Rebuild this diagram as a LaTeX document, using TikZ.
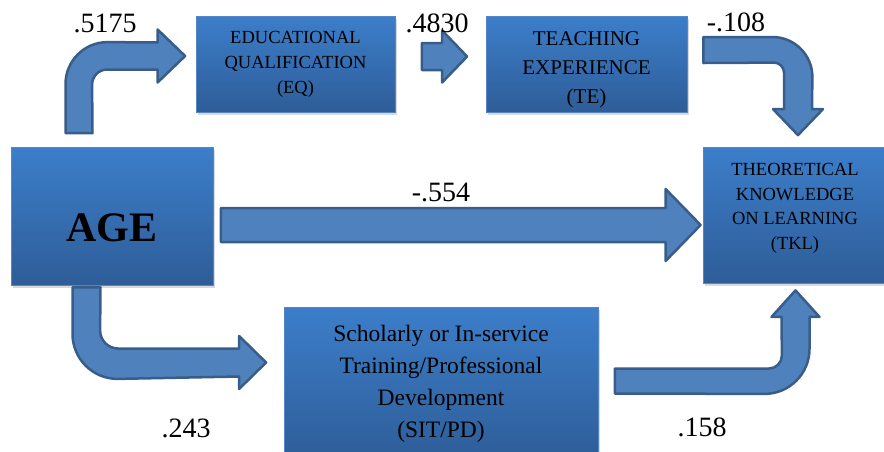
\documentclass[tikz,border=0pt]{standalone}
\usepackage{fontspec}
\setmainfont{Liberation Serif}
\usetikzlibrary{calc,shadows}

\definecolor{boxtop}{RGB}{60,126,202}
\definecolor{boxbottom}{RGB}{46,93,152}
\definecolor{boxedge}{RGB}{84,133,196}
\definecolor{arrowfill}{RGB}{79,129,189}
\definecolor{arrowedge}{RGB}{56,93,138}

\begin{document}
\begin{tikzpicture}[x=1pt,y=-1pt,
    varbox/.style={rectangle, draw=boxedge, line width=0.8pt, top color=boxtop,
        bottom color=boxbottom, align=center, inner sep=0pt,
        drop shadow={opacity=0.3, shadow xshift=2pt, shadow yshift=-3pt}},
    blockarrow/.style={fill=arrowfill, draw=arrowedge, line width=2.5pt, line join=round},
    coef/.style={font=\fontsize{28}{34}\selectfont, inner sep=0pt}]

    % Frame of the picture
    \useasboundingbox (0,0) rectangle (884,451);
    \clip (0,0) rectangle (884,451);

    % Variable boxes
    \node[varbox, minimum width=202pt, minimum height=138pt,
        font=\bfseries\fontsize{42}{50}\selectfont, text height=50pt, text depth=0pt]
        (age) at (112,216) {AGE};
    \node[varbox, minimum width=199pt, minimum height=96pt,
        font=\fontsize{18.5}{25}\selectfont]
        (eq) at (295.5,64) {EDUCATIONAL\\QUALIFICATION\\(EQ)};
    \node[varbox, minimum width=201pt, minimum height=96pt,
        font=\fontsize{21}{29}\selectfont, text height=84.8pt, text depth=5pt]
        (te) at (586.5,64) {TEACHING\\EXPERIENCE\\(TE)};
    \node[varbox, minimum width=184pt, minimum height=136pt,
        font=\fontsize{18.5}{24.5}\selectfont, text height=72.2pt, text depth=4pt]
        (tkl) at (795,215) {THEORETICAL\\KNOWLEDGE\\ON LEARNING\\(TKL)};
    \node[varbox, minimum width=314pt, minimum height=153pt,
        font=\fontsize{23.5}{32}\selectfont]
        (sit) at (441,383.5) {Scholarly or In-service\\Training/Professional\\Development\\(SIT/PD)};

    % Ends of the block arrows
    \coordinate (a1s) at ($(age.north)+(-33,-13.5)$);
    \coordinate (a1t) at ($(eq.west)+(-10.5,-8)$);
    \coordinate (a2s) at ($(eq.east)+(26.5,-7.5)$);
    \coordinate (a2t) at ($(te.west)+(-18.5,-7.5)$);
    \coordinate (a3s) at ($(te.east)+(16,-14)$);
    \coordinate (a3t) at ($(tkl.north)+(3,-11.5)$);
    \coordinate (a4s) at ($(age.east)+(7.5,9)$);
    \coordinate (a4t) at ($(tkl.west)+(-2,10)$);
    \coordinate (a5s) at ($(age.south)+(-25.5,2)$);
    \coordinate (a5t) at ($(sit.west)+(-17.5,-21)$);
    \coordinate (a6s) at ($(sit.east)+(16.5,-2.5)$);
    \coordinate (a6t) at ($(tkl.south)+(0.5,7)$);

    % AGE -> EQ (up, then right)
    \draw[blockarrow] ($(a1s)+(-13.5,0)$) -- ++(0,-49) arc (180:270:42)
        -- ($(a1t)+(-27.5,-13.5)$) -- ++(0,-13) -- (a1t) -- ++(-27.5,26.5) -- ++(0,-13)
        -- ++(-50.5,0) arc (270:180:15) -- ($(a1s)+(13.5,0)$) -- cycle;

    % EQ -> TE
    \draw[blockarrow] ($(a2s)+(0,-13.5)$) -- ($(a2t)+(-25,-13.5)$) -- ++(0,-12.5)
        -- (a2t) -- ++(-25,26) -- ++(0,-12.5) -- ($(a2s)+(0,13.5)$) -- cycle;

    % TE -> TKL (right, then down)
    \draw[blockarrow] ($(a3s)+(0,-13)$) -- ++(69,0) arc (270:360:40)
        -- ($(a3t)+(14,-26)$) -- ++(11,0) -- (a3t) -- ++(-25,-26) -- ++(11,0)
        -- ++(0,-36.5) arc (0:-90:10) -- ($(a3s)+(0,13)$) -- cycle;

    % AGE -> TKL
    \draw[blockarrow] ($(a4s)+(0,-17)$) -- ($(a4t)+(-35,-17)$) -- ++(0,-19)
        -- (a4t) -- ++(-35,36) -- ++(0,-19) -- ($(a4s)+(0,17)$) -- cycle;

    % AGE -> SIT/PD (down, then right)
    \draw[blockarrow] ($(a5s)+(-14,0)$) -- ++(0,46.5) arc (180:90:45)
        -- ($(a5t)+(-27,14)$) -- ++(0,12.5) -- (a5t) -- ++(-27,-26.5) -- ++(0,12.5)
        -- ++(-121,0) arc (90:180:18) -- ($(a5s)+(14,0)$) -- cycle;

    % SIT/PD -> TKL (right, then up)
    \draw[blockarrow] ($(a6s)+(0,-12.5)$) -- ++(154,0) arc (90:0:13)
        -- ($(a6t)+(-14,26.5)$) -- ++(-10,0) -- (a6t) -- ++(24,26.5) -- ++(-10,0)
        -- ++(0,32) arc (0:90:45) -- ($(a6s)+(0,12.5)$) -- cycle;

    % Path coefficients
    \node[coef] (c1) at (105,23) {.5175};
    \node[coef] (c2) at (437,23) {.4830};
    \node[coef] (c3) at (736,22) {-.108};
    \node[coef] (c4) at (441,192) {-.554};
    \node[coef] (c5) at (186,428) {.243};
    \node[coef] (c6) at (702,427) {.158};
\end{tikzpicture}
\end{document}
